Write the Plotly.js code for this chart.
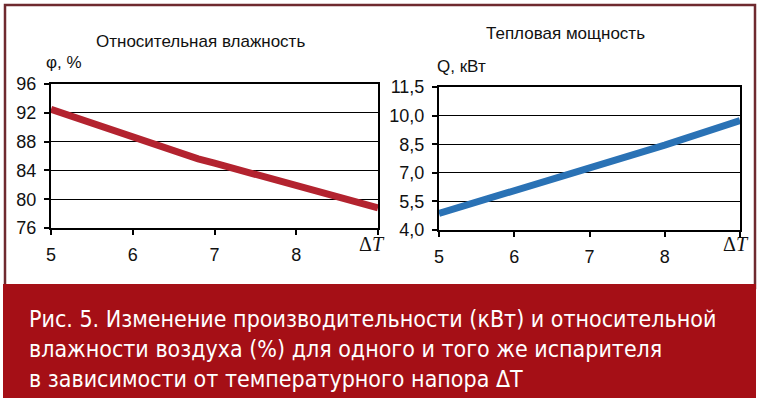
<!DOCTYPE html>
<html><head><meta charset="utf-8">
<script src="https://cdn.plot.ly/plotly-3.0.1.min.js"></script>
<style>html,body{margin:0;padding:0;background:#fff}#c{width:761px;height:407px}</style>
</head><body><div id="c"></div>
<script>
// Data
const dT_phi = [5, 6, 6.8, 7, 7.5, 8, 9];
const phi = [92.5, 88.6, 85.6, 85.0, 83.4, 82.0, 78.8];
const dT_Q = [5, 6, 7, 8, 9];
const Q = [4.87, 6.05, 7.3, 8.45, 9.74];
const xTicks = [5, 6, 7, 8, 9];
const xTickText = ['5', '6', '7', '8', ''];
const phiTicks = [76, 80, 84, 88, 92, 96];
const qTicks = [4.0, 5.5, 7.0, 8.5, 10.0, 11.5];
const qTickText = ['4,0', '5,5', '7,0', '8,5', '10,0', '11,5'];
const titleLeft = 'Относительная влажность';
const titleRight = 'Тепловая мощность';
const yLabelLeft = 'φ, %';
const yLabelRight = 'Q, кВт';
const caption = 'Рис. 5. Изменение производительности (кВт) и относительной<br>влажности воздуха (%) для одного и того же испарителя<br>в зависимости от температурного напора ΔT';

const W = 761, H = 407;
const px = x => x / W, py = y => 1 - y / H;
const font = {family: '"Liberation Sans", Arial, sans-serif', size: 16, color: '#111'};

const axBase = {
  showline: true, linecolor: '#000', linewidth: 2, mirror: true,
  showgrid: true, gridcolor: '#000', gridwidth: 1, zeroline: false,
  ticks: 'outside', ticklen: 5, tickwidth: 2, tickcolor: '#000',
  tickfont: {family: font.family, size: 18, color: '#111'}, fixedrange: true
};

const traces = [
  {x: dT_phi, y: phi, xaxis: 'x', yaxis: 'y', mode: 'lines',
   line: {color: '#b3232f', width: 7}, hoverinfo: 'skip'},
  {x: dT_Q, y: Q, xaxis: 'x2', yaxis: 'y2', mode: 'lines',
   line: {color: '#2a72b5', width: 7}, hoverinfo: 'skip'}
];

const tfont = {family: font.family, size: 17, color: '#111'};

const layout = {
  width: W, height: H, margin: {l: 0, r: 0, t: 0, b: 0},
  paper_bgcolor: '#fff', plot_bgcolor: '#fff', showlegend: false, font: font,
  xaxis: Object.assign({}, axBase, {domain: [px(51), px(378)], range: [5, 9],
    tickvals: xTicks, ticktext: xTickText, showgrid: false, ticklabelstandoff: 4, anchor: 'y'}),
  yaxis: Object.assign({}, axBase, {domain: [py(228), py(84)], range: [76, 96],
    tickvals: phiTicks, ticklabelstandoff: 4, anchor: 'x'}),
  xaxis2: Object.assign({}, axBase, {domain: [px(439), px(740)], range: [5, 9],
    tickvals: xTicks, ticktext: xTickText, showgrid: false, ticklabelstandoff: 4, anchor: 'y2'}),
  yaxis2: Object.assign({}, axBase, {domain: [py(230), py(87)], range: [4, 11.5],
    tickvals: qTicks, ticktext: qTickText, ticklabelstandoff: 4, anchor: 'x2'}),
  shapes: [
    {type: 'rect', xref: 'paper', yref: 'paper', x0: px(5), x1: px(755), y0: py(288), y1: py(5),
     line: {color: '#6f2a2f', width: 2.5}, fillcolor: 'rgba(0,0,0,0)', layer: 'below'},
    {type: 'rect', xref: 'paper', yref: 'paper', x0: px(3), x1: px(756), y0: py(398), y1: py(284),
     line: {width: 0}, fillcolor: '#a50f16', layer: 'below'}
  ],
  annotations: [
    {xref: 'paper', yref: 'paper', x: px(200), y: py(42), text: titleLeft, showarrow: false,
     font: tfont, xanchor: 'center', yanchor: 'middle'},
    {xref: 'paper', yref: 'paper', x: px(44), y: py(62), text: yLabelLeft, showarrow: false,
     font: tfont, xanchor: 'left', yanchor: 'middle'},
    {xref: 'paper', yref: 'paper', x: px(565), y: py(33), text: titleRight, showarrow: false,
     font: tfont, xanchor: 'center', yanchor: 'middle'},
    {xref: 'paper', yref: 'paper', x: px(435), y: py(67), text: yLabelRight, showarrow: false,
     font: tfont, xanchor: 'left', yanchor: 'middle'},
    {xref: 'paper', yref: 'paper', x: px(357), y: py(244), text: 'Δ<i>T</i>', showarrow: false,
     font: {family: '"Liberation Serif", "Times New Roman", serif', size: 20, color: '#111'}, xanchor: 'left', yanchor: 'middle'},
    {xref: 'paper', yref: 'paper', x: px(721), y: py(244), text: 'Δ<i>T</i>', showarrow: false,
     font: {family: '"Liberation Serif", "Times New Roman", serif', size: 20, color: '#111'}, xanchor: 'left', yanchor: 'middle'},
    {xref: 'paper', yref: 'paper', x: px(27), y: py(349), text: caption, showarrow: false, align: 'left',
     font: {family: '"DejaVu Sans Condensed", "Liberation Sans Narrow", sans-serif', size: 23, color: '#fff'},
     xanchor: 'left', yanchor: 'middle'}
  ]
};

Plotly.newPlot('c', traces, layout, {displayModeBar: false, staticPlot: true});
</script>
</body></html>
